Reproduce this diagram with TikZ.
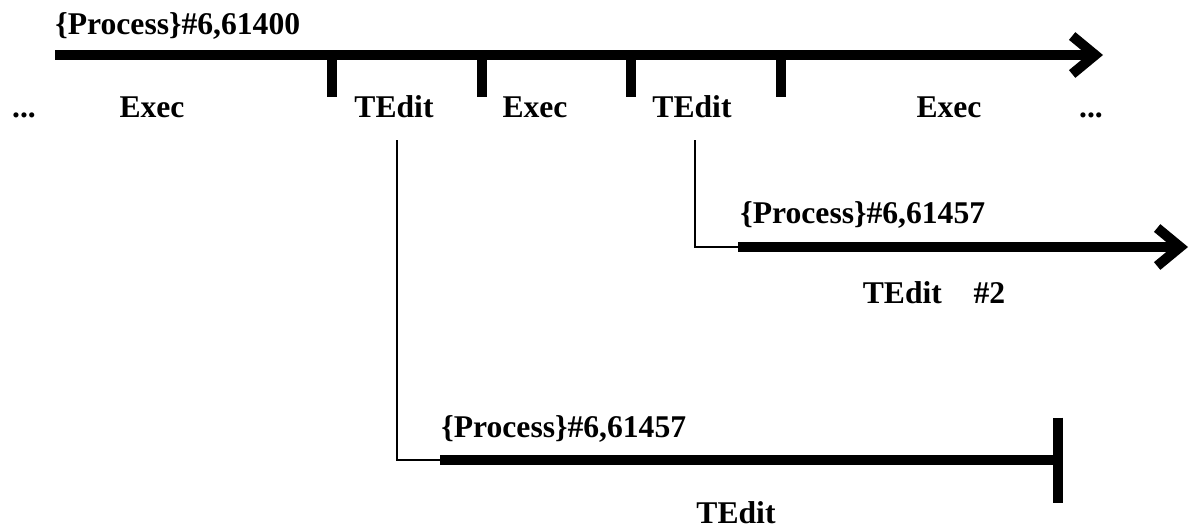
\documentclass[tikz,border=0pt]{standalone}
\usepackage{fontspec}
\setmainfont{Liberation Serif}
\usetikzlibrary{arrows.meta, positioning}

\begin{document}
\begin{tikzpicture}[
        x=0.02cm, y=-0.02cm,
        label/.style={
            inner sep=0pt,
            font=\fontsize{18}{20}\selectfont\bfseries
        },
        timeline/.style={line width=0.2cm},
        tickmark/.style={line width=0.2cm},
        branch/.style={line width=0.85pt},
        arrow/.style={-{Straight Barb[length=0.46cm, width=0.76cm]}},
        stop/.style={-{Bar[width=1.7cm]}}
    ]
    \useasboundingbox (0,0) rectangle (1197,529);

    % parent process
    \coordinate (mainstart) at (55,55);
    \coordinate (mainend)   at (1103,55);
    \node (mainlabel) [label, anchor=base west] at (55,34) {\{Process\}\#6,61400};

    \node (dotsleft)  [label, anchor=base] at (24,117)   {...};
    \node (exec1)     [label, anchor=base] at (152,117)  {Exec};
    \node (tedit1)    [label, anchor=base] at (394,117)  {TEdit};
    \node (exec2)     [label, anchor=base] at (535,117)  {Exec};
    \node (tedit2)    [label, anchor=base] at (692,117)  {TEdit};
    \node (exec3)     [label, anchor=base] at (949,117)  {Exec};
    \node (dotsright) [label, anchor=base] at (1091,117) {...};

    % child started by the second TEdit
    \coordinate (forkup)   at (695,140);
    \coordinate (childup)  at (738,247);
    \coordinate (childend) at (1188,247);
    \node (uplabel) [label, anchor=base west] at (740,223) {\{Process\}\#6,61457};
    \node (upname)  [label, anchor=base] at (934,303) {TEdit\quad\#2};

    % child started by the first TEdit
    \coordinate (forklow)  at (397,140);
    \coordinate (childlow) at (440,460);
    \coordinate (lowend)   at (1063,460);
    \node (lowlabel) [label, anchor=base west] at (441,437) {\{Process\}\#6,61457};
    \node (lowname)  [label, anchor=base] at (736,523) {TEdit};

    \draw [timeline, arrow] (mainstart) -- (mainend);
    \draw [tickmark] (332,55) -- (332,97);
    \draw [tickmark] (482,55) -- (482,97);
    \draw [tickmark] (631,55) -- (631,97);
    \draw [tickmark] (781,55) -- (781,97);

    \draw [branch] (forkup) |- (childup);
    \draw [timeline, arrow] (childup) -- (childend);

    \draw [branch] (forklow) |- (childlow);
    \draw [timeline, stop] (childlow) -- (lowend);

\end{tikzpicture}
\end{document}
